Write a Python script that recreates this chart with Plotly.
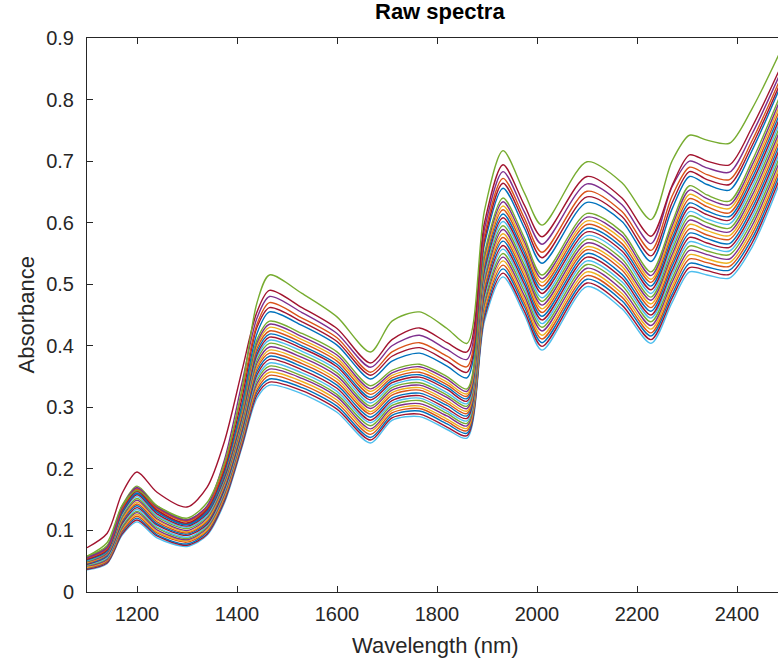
import plotly.graph_objects as go

# ---------------- data ----------------
wavelength = [1100, 1140, 1170, 1200, 1240, 1300, 1340, 1375, 1410, 1440, 1465,
              1530, 1600, 1667, 1710, 1765, 1820, 1860, 1895, 1932, 1975, 2010,
              2100, 2170, 2228, 2270, 2305, 2340, 2385, 2430, 2483]

x_ticks = [1200, 1400, 1600, 1800, 2000, 2200, 2400]
y_ticks = [0, 0.1, 0.2, 0.3, 0.4, 0.5, 0.6, 0.7, 0.8, 0.9]
y_tick_labels = ["0", "0.1", "0.2", "0.3", "0.4", "0.5", "0.6", "0.7", "0.8", "0.9"]

spec_01 = [.036,.046,.092,.114,.088,.074,.092,.145,.235,.315,.336,.322,.292,.242,.279,.285,.264,.250,.440,.512,.450,.393,.496,.460,.404,.470,.520,.515,.510,.560,.660]
spec_02 = [.037,.047,.094,.117,.091,.076,.094,.148,.238,.320,.341,.327,.297,.247,.283,.289,.268,.254,.446,.518,.456,.399,.502,.466,.410,.477,.527,.522,.516,.567,.667]
spec_03 = [.038,.049,.097,.120,.093,.078,.097,.151,.242,.325,.346,.332,.302,.251,.287,.294,.273,.258,.451,.525,.463,.405,.508,.473,.416,.483,.534,.528,.523,.574,.674]
spec_04 = [.039,.050,.099,.123,.096,.081,.099,.153,.245,.329,.352,.337,.307,.256,.291,.298,.277,.262,.457,.531,.469,.411,.514,.479,.421,.490,.541,.535,.529,.581,.681]
spec_05 = [.040,.052,.102,.126,.098,.083,.101,.156,.248,.334,.357,.342,.312,.261,.295,.302,.281,.266,.462,.538,.475,.417,.520,.485,.427,.496,.548,.541,.535,.588,.688]
spec_06 = [.042,.053,.104,.129,.101,.085,.104,.159,.251,.339,.362,.347,.317,.265,.299,.306,.286,.270,.468,.544,.481,.424,.526,.491,.433,.503,.555,.548,.541,.595,.695]
spec_07 = [.043,.055,.106,.131,.104,.087,.106,.162,.255,.344,.367,.351,.321,.270,.303,.311,.290,.274,.473,.550,.488,.430,.532,.498,.439,.509,.562,.554,.548,.602,.702]
spec_08 = [.044,.056,.109,.134,.106,.089,.108,.164,.258,.348,.372,.356,.326,.275,.307,.315,.294,.278,.479,.557,.494,.436,.538,.504,.445,.516,.569,.561,.554,.609,.709]
spec_09 = [.045,.058,.111,.137,.109,.092,.110,.167,.261,.353,.378,.361,.331,.279,.311,.319,.298,.282,.484,.563,.500,.442,.544,.510,.450,.522,.576,.567,.560,.616,.716]
spec_10 = [.046,.059,.114,.140,.111,.094,.113,.170,.264,.358,.383,.366,.336,.284,.315,.323,.303,.286,.490,.570,.506,.448,.550,.516,.456,.529,.583,.574,.566,.623,.723]
spec_11 = [.047,.061,.116,.143,.114,.096,.115,.173,.268,.363,.388,.371,.341,.289,.320,.328,.307,.290,.495,.576,.513,.454,.556,.523,.462,.535,.590,.580,.573,.630,.730]
spec_12 = [.048,.062,.118,.146,.117,.098,.117,.175,.271,.367,.393,.376,.346,.293,.324,.332,.311,.294,.501,.582,.519,.460,.561,.529,.468,.542,.597,.587,.579,.637,.737]
spec_13 = [.049,.063,.121,.149,.119,.100,.120,.178,.274,.372,.398,.381,.351,.298,.328,.336,.316,.298,.506,.589,.525,.466,.567,.535,.474,.548,.604,.593,.585,.644,.744]
spec_14 = [.050,.065,.123,.152,.122,.103,.122,.181,.277,.377,.404,.386,.356,.302,.332,.340,.320,.302,.512,.595,.531,.472,.573,.541,.479,.555,.611,.600,.591,.651,.751]
spec_15 = [.051,.066,.126,.155,.124,.105,.124,.184,.281,.382,.409,.391,.361,.307,.336,.345,.324,.306,.517,.602,.538,.478,.579,.548,.485,.561,.618,.606,.598,.658,.758]
spec_16 = [.053,.068,.128,.158,.127,.107,.127,.186,.284,.386,.414,.396,.366,.312,.340,.349,.329,.310,.523,.608,.544,.485,.585,.554,.491,.568,.625,.613,.604,.665,.765]
spec_17 = [.054,.069,.130,.160,.130,.109,.129,.189,.287,.391,.419,.400,.370,.316,.344,.353,.333,.314,.528,.614,.550,.491,.591,.560,.497,.574,.632,.619,.610,.672,.772]
spec_18 = [.055,.071,.133,.163,.132,.111,.131,.192,.290,.396,.424,.405,.375,.321,.348,.357,.337,.318,.534,.621,.556,.497,.597,.566,.503,.581,.639,.626,.616,.679,.779]
spec_19 = [.056,.072,.135,.166,.135,.114,.133,.195,.294,.401,.430,.410,.380,.326,.352,.362,.341,.322,.539,.627,.563,.503,.603,.573,.508,.587,.646,.632,.623,.686,.786]
spec_20 = [.057,.074,.138,.169,.137,.116,.136,.197,.297,.405,.435,.415,.385,.330,.356,.366,.346,.326,.545,.634,.569,.509,.609,.579,.514,.594,.653,.639,.629,.693,.793]
spec_21 = [.058,.075,.140,.172,.140,.118,.138,.200,.300,.410,.440,.420,.390,.335,.360,.370,.350,.330,.550,.640,.575,.515,.615,.585,.520,.600,.660,.645,.635,.700,.800]
spec_22 = [.052,.066,.130,.161,.130,.110,.131,.195,.305,.420,.455,.433,.401,.346,.375,.388,.367,.348,.565,.656,.591,.534,.633,.602,.537,.622,.675,.662,.653,.717,.814]
spec_23 = [.053,.068,.133,.164,.133,.112,.134,.200,.315,.430,.462,.439,.407,.352,.383,.397,.375,.357,.572,.664,.599,.543,.642,.610,.546,.632,.683,.670,.662,.725,.820]
spec_24 = [.055,.070,.135,.167,.136,.115,.137,.205,.325,.435,.470,.445,.413,.357,.390,.405,.383,.366,.580,.672,.607,.552,.651,.618,.555,.643,.690,.678,.670,.733,.827]
spec_25 = [.056,.072,.138,.170,.138,.117,.140,.215,.340,.445,.480,.454,.420,.365,.400,.417,.394,.378,.590,.683,.617,.565,.663,.629,.566,.658,.700,.689,.682,.744,.836]
spec_26 = [.072,.095,.160,.195,.162,.138,.170,.245,.360,.455,.490,.462,.428,.372,.410,.429,.405,.390,.600,.694,.628,.577,.675,.640,.578,.660,.710,.700,.694,.755,.845]
spec_27 = [.058,.080,.140,.165,.140,.120,.145,.210,.330,.470,.515,.485,.447,.390,.440,.455,.428,.404,.620,.717,.648,.596,.699,.665,.605,.700,.742,.734,.729,.785,.872]

spectra = [spec_01, spec_02, spec_03, spec_04, spec_05, spec_06, spec_07, spec_08, spec_09,
           spec_10, spec_11, spec_12, spec_13, spec_14, spec_15, spec_16, spec_17, spec_18,
           spec_19, spec_20, spec_21, spec_22, spec_23, spec_24, spec_25, spec_26, spec_27]

# ---------------- style ----------------
palette = ["#0072BD", "#D95319", "#EDB120", "#7E2F8E", "#77AC30", "#4DBEEE", "#A2142F"]
line_colors = [palette[(i + 5) % 7] for i in range(21)] + \
              ["#0072BD", "#A2142F", "#D95319", "#7E2F8E", "#A2142F", "#77AC30"]

axis_color = "#262626"
font_family = "Liberation Sans, Arial, Helvetica, sans-serif"

fig = go.Figure()
for ys, col in zip(spectra, line_colors):
    fig.add_trace(go.Scatter(
        x=wavelength, y=ys, mode="lines",
        line=dict(color=col, width=1.4, shape="spline", smoothing=0.8),
        hoverinfo="skip", showlegend=False))

fig.update_layout(
    width=778, height=658,
    margin=dict(l=87, r=0, t=38, b=66),
    plot_bgcolor="white", paper_bgcolor="white",
    font=dict(family=font_family, size=20, color=axis_color),
    showlegend=False,
    xaxis=dict(range=[1100, 2482], tickmode="array", tickvals=x_ticks,
               ticks="inside", ticklen=6, tickwidth=1, tickcolor=axis_color,
               showline=True, linecolor=axis_color, linewidth=1, mirror="ticks",
               showgrid=False, zeroline=False, ticklabelstandoff=4),
    yaxis=dict(range=[0, 0.9], tickmode="array", tickvals=y_ticks, ticktext=y_tick_labels,
               ticks="inside", ticklen=6, tickwidth=1, tickcolor=axis_color,
               showline=True, linecolor=axis_color, linewidth=1, mirror=False,
               showgrid=False, zeroline=False, ticklabelstandoff=8),
    annotations=[
        dict(text="<b>Raw spectra</b>", x=0.511, y=1.047, xref="paper", yref="paper",
             xanchor="center", yanchor="middle", showarrow=False,
             font=dict(family=font_family, size=22, color="#000000")),
        dict(text="Wavelength (nm)", x=0.504, y=-0.097, xref="paper", yref="paper",
             xanchor="center", yanchor="middle", showarrow=False,
             font=dict(family=font_family, size=22, color=axis_color)),
        dict(text="Absorbance", x=-0.089, y=0.5, xref="paper", yref="paper",
             xanchor="center", yanchor="middle", showarrow=False, textangle=-90,
             font=dict(family=font_family, size=22, color=axis_color)),
    ],
)

fig.write_html(
    "out.html",
    config={"displayModeBar": False},
    post_script="document.body.style.margin='0';document.body.style.overflow='hidden';",
)
